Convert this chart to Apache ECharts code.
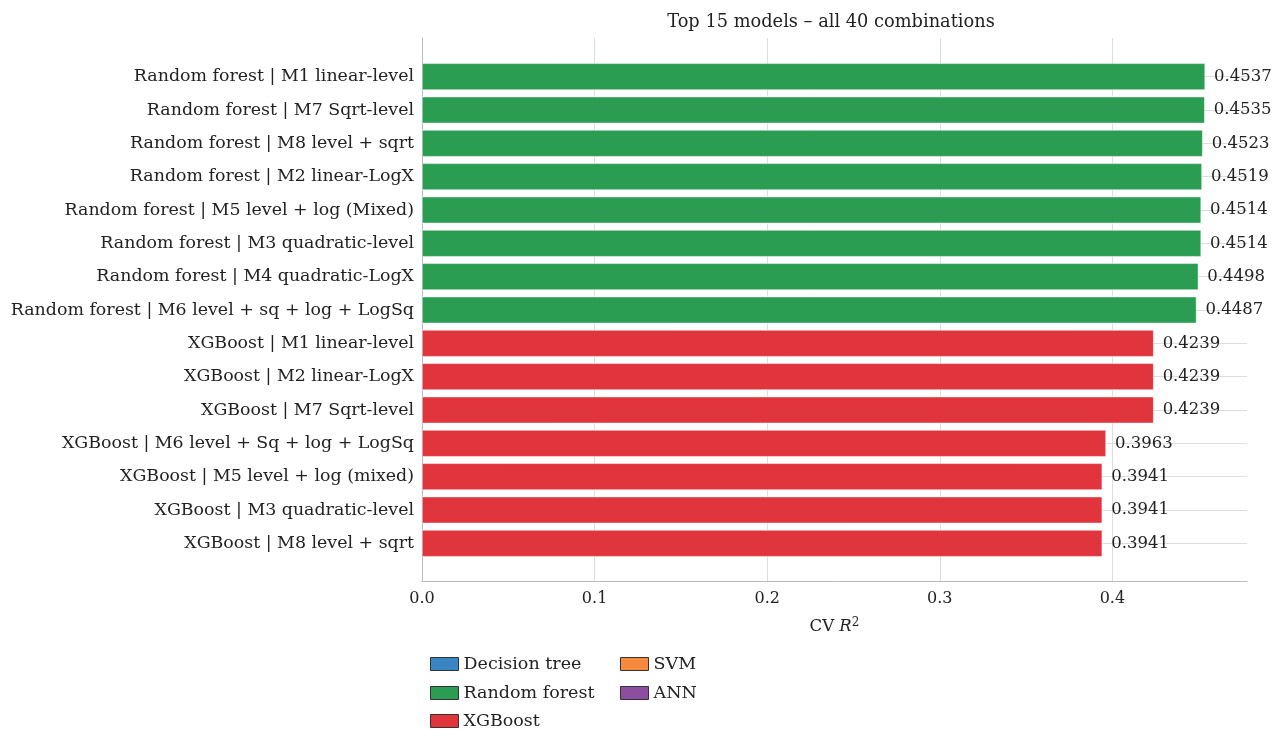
<!DOCTYPE html>
<html>
<head>
<meta charset="utf-8">
<script src="https://cdn.jsdelivr.net/npm/echarts@6/dist/echarts.min.js"></script>
<style>
  html, body { margin: 0; padding: 0; background: #fff; }
  #chart { width: 1272px; height: 730px; }
</style>
</head>
<body>
<div id="chart"></div>
<script>
// Model / specification labels, best first
const models = [
  'Random forest | M1 linear-level',
  'Random forest | M7 Sqrt-level',
  'Random forest | M8 level + sqrt',
  'Random forest | M2 linear-LogX',
  'Random forest | M5 level + log (Mixed)',
  'Random forest | M3 quadratic-level',
  'Random forest | M4 quadratic-LogX',
  'Random forest | M6 level + sq + log + LogSq',
  'XGBoost | M1 linear-level',
  'XGBoost | M2 linear-LogX',
  'XGBoost | M7 Sqrt-level',
  'XGBoost | M6 level + Sq + log + LogSq',
  'XGBoost | M5 level + log (mixed)',
  'XGBoost | M3 quadratic-level',
  'XGBoost | M8 level + sqrt'
];
// Cross-validated R² per model
const cvR2 = [0.4537, 0.4535, 0.4523, 0.4519, 0.4514, 0.4514, 0.4498, 0.4487,
              0.4239, 0.4239, 0.4239, 0.3963, 0.3941, 0.3941, 0.3941];
// Algorithm family of each model
const family = ['Random forest', 'Random forest', 'Random forest', 'Random forest',
                'Random forest', 'Random forest', 'Random forest', 'Random forest',
                'XGBoost', 'XGBoost', 'XGBoost', 'XGBoost', 'XGBoost', 'XGBoost', 'XGBoost'];
const families = ['Decision tree', 'Random forest', 'XGBoost', 'SVM', 'ANN'];
const familyColors = {
  'Decision tree': '#3a85c4',
  'Random forest': '#2a9d52',
  'XGBoost': '#e0353c',
  'SVM': '#f68b3d',
  'ANN': '#8e4ea0'
};
const xTicks = [0.0, 0.1, 0.2, 0.3, 0.4];
const xMax = 0.478;

const FONT = 'DejaVu Serif';
const chart = echarts.init(document.getElementById('chart'));

const barSeries = families.map(f => ({
  name: f,
  type: 'bar',
  xAxisIndex: 1,
  yAxisIndex: 1,
  stack: 'models',
  barWidth: '80%',
  z: 3,
  itemStyle: { color: familyColors[f], borderColor: '#fff', borderWidth: 0.5 },
  label: {
    show: true,
    position: 'right',
    distance: 9,
    fontFamily: FONT,
    fontSize: 16.5,
    color: '#222',
    formatter: p => Number(p.value).toFixed(4)
  },
  data: cvR2.map((v, i) => family[i] === f ? v : '-')
}));

// legend placed as two columns: [name, left, top]
const legendSlots = [
  ['Decision tree', 425, 650],
  ['Random forest', 425, 679],
  ['XGBoost', 425, 707],
  ['SVM', 615, 650],
  ['ANN', 615, 679]
];
const legends = legendSlots.map(([name, left, top]) => ({
  data: [name], left, top,
  itemWidth: 28, itemHeight: 13,
  icon: 'rect',
  itemStyle: { borderColor: '#333', borderWidth: 1 },
  textStyle: { fontFamily: FONT, fontSize: 17.5, color: '#222' }
}));

chart.setOption({
  animation: false,
  backgroundColor: '#fff',
  title: {
    text: 'Top 15 models \u2013 all 40 combinations',
    left: 826, top: 8, textAlign: 'center',
    textStyle: { fontFamily: FONT, fontSize: 17.8, fontWeight: 'normal', color: '#222' }
  },
  legend: legends,
  grid: [
    // frame: vertical grid lines, x axis, left spine
    { left: 422, right: 25, top: 38, bottom: 149 },
    // bars and category labels
    { left: 422, right: 25, top: 60, bottom: 170 },
    // horizontal grid lines at category centres (one band beyond each end)
    { left: 422, right: 25, top: 43.33, bottom: 153.33 }
  ],
  xAxis: [
    {
      type: 'value', gridIndex: 0, min: 0, max: xMax, interval: 0.1,
      axisLine: { show: true, lineStyle: { color: '#bbb' } },
      axisTick: { show: false },
      splitLine: { show: true, showMaxLine: false, lineStyle: { color: '#dddddd' } },
      axisLabel: {
        fontFamily: FONT, fontSize: 16, color: '#222', margin: 10,
        formatter: v => xTicks.some(t => Math.abs(t - v) < 1e-9) ? v.toFixed(1) : ''
      },
      name: '{n|CV }{i|R}{s|2}',
      nameLocation: 'middle', nameGap: 36,
      nameTextStyle: {
        rich: {
          n: { fontFamily: FONT, fontSize: 16.5, color: '#222' },
          i: { fontFamily: FONT, fontSize: 16.5, fontStyle: 'italic', color: '#222' },
          s: { fontFamily: FONT, fontSize: 12, color: '#222', verticalAlign: 'top', padding: [0, 0, 8, 0] }
        }
      }
    },
    {
      type: 'value', gridIndex: 1, min: 0, max: xMax,
      show: false, splitLine: { show: false }
    },
    {
      type: 'value', gridIndex: 2, min: 0, max: xMax,
      show: false, splitLine: { show: false }
    }
  ],
  yAxis: [
    {
      type: 'value', gridIndex: 0, min: 0, max: 1,
      axisLine: { show: true, lineStyle: { color: '#bbb' } },
      axisTick: { show: false }, axisLabel: { show: false }, splitLine: { show: false }
    },
    {
      type: 'category', gridIndex: 1, data: models, inverse: true,
      axisLine: { show: false }, axisTick: { show: false },
      splitLine: { show: false },
      axisLabel: { fontFamily: FONT, fontSize: 17.4, color: '#222', margin: 8 }
    },
    {
      type: 'value', gridIndex: 2, min: -1, max: 15, interval: 1, inverse: true,
      axisLine: { show: false }, axisTick: { show: false }, axisLabel: { show: false },
      splitLine: { show: true, showMinLine: false, showMaxLine: false, lineStyle: { color: '#dddddd' } }
    }
  ],
  series: barSeries
});
</script>
</body>
</html>
